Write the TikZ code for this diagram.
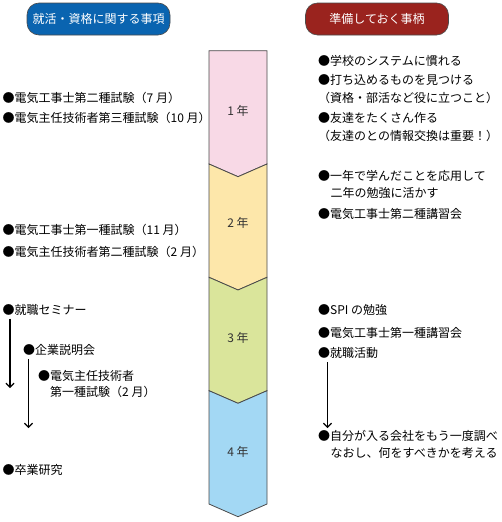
\documentclass[tikz,border=0pt]{standalone}
\usepackage{fontspec}
\setmainfont{Noto Sans CJK JP}
\usepackage{tikz}
\usetikzlibrary{arrows.meta}
\definecolor{headblue}{HTML}{0A64B0}
\definecolor{headbrown}{HTML}{9A231E}
\definecolor{edgegray}{HTML}{4A4A4A}
\definecolor{grade1}{HTML}{F8D9E6}
\definecolor{grade2}{HTML}{FDE7AA}
\definecolor{grade3}{HTML}{DAE59B}
\definecolor{grade4}{HTML}{A3D8F4}
\tikzset{
  textnode/.style = {inner sep=0pt, font=\fontsize{12}{14}\selectfont},
  head_box/.style = {textnode, rounded corners=12pt, draw=edgegray, semithick,
    text=white, minimum width=143pt, minimum height=32pt},% 見出し
  item/.style = {textnode, anchor=west, black},% 項目
  year_label/.style = {textnode, text=black!80},% 学年
  stage/.style = {draw=edgegray, line width=0.8pt, line join=miter},% 学年の帯
  flow/.style = {-{Straight Barb[length=4pt,width=8pt]}, black, line width=1.2pt}% 矢印
}
\begin{document}
\begin{tikzpicture}[x=1pt, y=-1pt]
      \useasboundingbox (0,0) rectangle (501,522);
      % 見出し
      \node [head_box, fill=headblue] (head_left) at (98.5,19) {就活・資格に関する事項};
      \node [head_box, fill=headbrown] (head_right) at (377,19) {準備しておく事柄};
      % 学年の帯
      \filldraw [stage, fill=grade1] (209,50.7) -- (267,50.7) -- (267,164)
        -- (238,176.7) -- (209,164) -- cycle;
      \filldraw [stage, fill=grade2] (209,164) -- (238,176.7) -- (267,164)
        -- (267,277.3) -- (238,290) -- (209,277.3) -- cycle;
      \filldraw [stage, fill=grade3] (209,277.3) -- (238,290) -- (267,277.3)
        -- (267,390.7) -- (238,403.3) -- (209,390.7) -- cycle;
      \filldraw [stage, fill=grade4] (209,390.7) -- (238,403.3) -- (267,390.7)
        -- (267,504) -- (238,516.7) -- (209,504) -- cycle;
      \node [year_label] (year1) at (238,110.7) {1 年};
      \node [year_label] (year2) at (238,223) {2 年};
      \node [year_label] (year3) at (238,338) {3 年};
      \node [year_label] (year4) at (238,451.7) {4 年};
      % 就活・資格
      \node [item] (shiken1) at (2.5,98.3) {●電気工事士第二種試験（7 月）};
      \node [item] (shiken2) at (2.5,118.3) {●電気主任技術者第三種試験（10 月）};
      \node [item] (shiken3) at (2.5,230) {●電気工事士第一種試験（11 月）};
      \node [item] (shiken4) at (2.5,251.7) {●電気主任技術者第二種試験（2 月）};
      \node [item] (seminar) at (2.5,310) {●就職セミナー};
      \node [item] (setsumei) at (23,350) {●企業説明会};
      \node [item] (shiken5) at (38,375.5) {●電気主任技術者};
      \node [item] (shiken5b) at (50,391.5) {第一種試験（2 月）};
      \node [item] (sotsuken) at (2.5,470) {●卒業研究};
      % 準備
      \node [item] (junbi1) at (318,60.7) {●学校のシステムに慣れる};
      \node [item] (junbi2) at (318,80) {●打ち込めるものを見つける};
      \node [item] (junbi2b) at (318,98.3) {（資格・部活など役に立つこと）};
      \node [item] (junbi3) at (318,118.3) {●友達をたくさん作る};
      \node [item] (junbi3b) at (318,135.5) {（友達のとの情報交換は重要！）};
      \node [item] (junbi4) at (318,176) {●一年で学んだことを応用して};
      \node [item] (junbi4b) at (330.5,193.3) {二年の勉強に活かす};
      \node [item] (junbi5) at (318,214) {●電気工事士第二種講習会};
      \node [item] (junbi6) at (318,310) {●SPI の勉強};
      \node [item] (junbi7) at (318,333.3) {●電気工事士第一種講習会};
      \node [item] (junbi8) at (318,353.3) {●就職活動};
      \node [item] (junbi9) at (318,435.5) {●自分が入る会社をもう一度調べ};
      \node [item] (junbi9b) at (330.5,453.3) {なおし、何をすべきかを考える};
      % 矢印
      \coordinate (seminar_end) at (10,388);
      \coordinate (setsumei_end) at (28.5,428);
      \coordinate (katsudo_end) at (327.5,428);
      \draw [flow] (seminar.south west -| seminar_end) ++(0,3) -- (seminar_end);
      \draw [flow] (setsumei.south west -| setsumei_end) ++(0,3) -- (setsumei_end);
      \draw [flow] (junbi8.south west -| katsudo_end) ++(0,3) -- (katsudo_end);
\end{tikzpicture}
\end{document}
